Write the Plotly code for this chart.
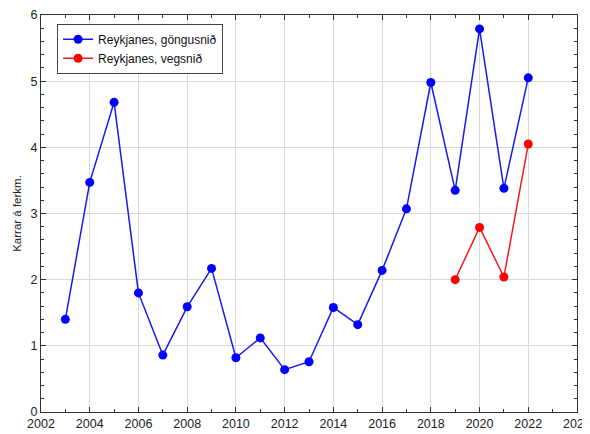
import plotly.graph_objects as go

years_walk = [2003, 2004, 2005, 2006, 2007, 2008, 2009, 2010, 2011, 2012,
              2013, 2014, 2015, 2016, 2017, 2018, 2019, 2020, 2021, 2022]
walk = [1.40, 3.47, 4.68, 1.80, 0.86, 1.59, 2.17, 0.82, 1.12, 0.64,
        0.76, 1.58, 1.32, 2.14, 3.07, 4.98, 3.35, 5.79, 3.38, 5.05]
years_road = [2019, 2020, 2021, 2022]
road = [2.00, 2.79, 2.04, 4.05]

name_walk = "Reykjanes, göngusnið"
name_road = "Reykjanes, vegsnið"
y_title = "Karrar á ferkm."

font = "Liberation Sans, Arial, sans-serif"

fig = go.Figure()
fig.add_trace(go.Scatter(x=years_walk, y=walk, name=name_walk, mode="lines+markers",
                         line=dict(color="#1a1ae6", width=1.5),
                         marker=dict(color="#0000ff", size=9)))
fig.add_trace(go.Scatter(x=years_road, y=road, name=name_road, mode="lines+markers",
                         line=dict(color="#ee1c1c", width=1.5),
                         marker=dict(color="#ff0000", size=9)))

axis_common = dict(showline=True, linecolor="#333333", linewidth=1, mirror="ticks",
                   ticks="inside", ticklen=5, tickcolor="#333333",
                   showgrid=True, gridcolor="#d9d9d9", gridwidth=1,
                   zeroline=False, automargin=False, ticklabeloverflow="allow",
                   tickfont=dict(family=font, size=12.5, color="#222222"))

fig.update_xaxes(range=[2002, 2024], dtick=2, tick0=2002,
                 minor=dict(dtick=1, ticks="inside", ticklen=3, tickcolor="#333333", showgrid=False),
                 **axis_common)
fig.update_yaxes(range=[0, 6], dtick=1,
                 minor=dict(dtick=0.2, ticks="inside", ticklen=3, tickcolor="#333333", showgrid=False),
                 title=dict(text=y_title, font=dict(family=font, size=11.5, color="#222222"), standoff=6),
                 **axis_common)

fig.update_layout(
    width=582, height=426,
    margin=dict(l=33, r=13, t=7, b=22),
    paper_bgcolor="white", plot_bgcolor="white",
    font=dict(family=font, size=12, color="#222222"),
    legend=dict(x=0.03, y=0.978, xanchor="left", yanchor="top",
                bgcolor="white", bordercolor="#444444", borderwidth=1,
                font=dict(family=font, size=12, color="#111111"),
                tracegroupgap=0, itemwidth=30),
    showlegend=True,
)

fig.write_html("out.html")
